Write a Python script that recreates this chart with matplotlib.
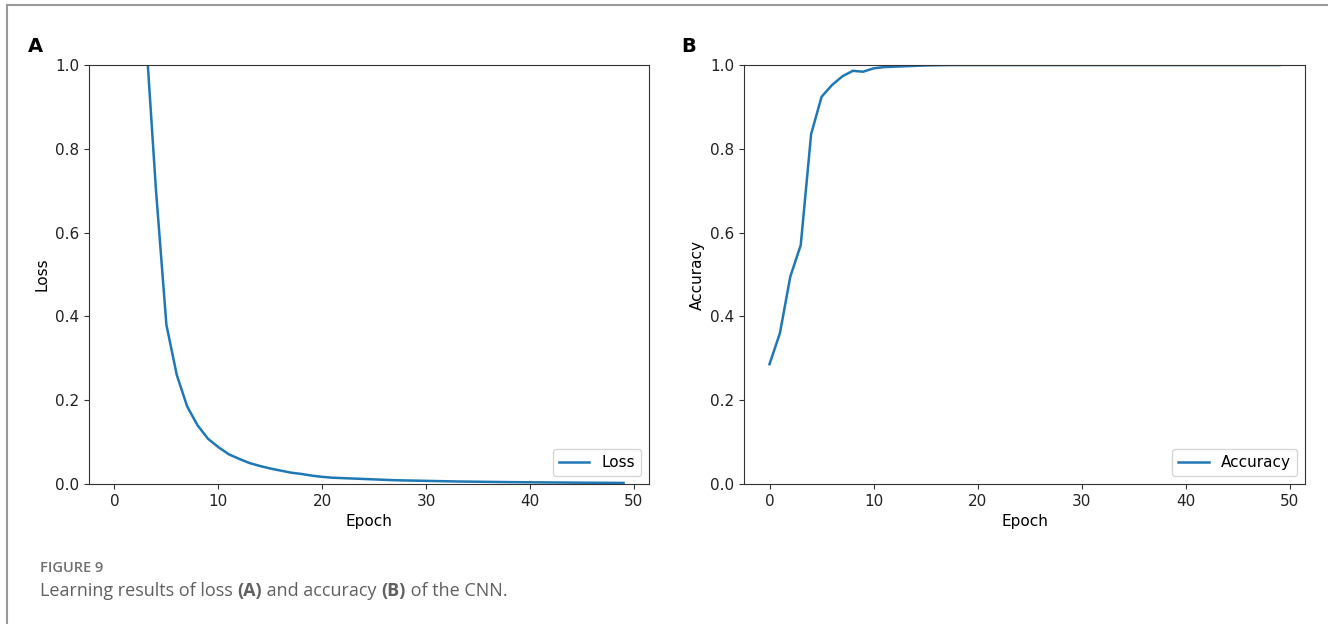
import numpy as np
import matplotlib
matplotlib.use('Agg')
import matplotlib.pyplot as plt
from matplotlib.lines import Line2D

epochs = list(range(50))

loss = [2.6, 1.9, 1.45, 1.08, 0.70, 0.38, 0.26, 0.185, 0.14, 0.108,
        0.088, 0.071, 0.060, 0.050, 0.043, 0.037, 0.032, 0.027, 0.024, 0.020,
        0.017, 0.015, 0.014, 0.013, 0.012, 0.011, 0.010, 0.009, 0.0085, 0.008,
        0.0075, 0.007, 0.0065, 0.006, 0.0057, 0.0054, 0.0051, 0.0048, 0.0045, 0.0043,
        0.0041, 0.0039, 0.0037, 0.0035, 0.0033, 0.0031, 0.0030, 0.0028, 0.0027, 0.0026]

accuracy = [0.286, 0.36, 0.495, 0.570, 0.835, 0.924, 0.952, 0.973, 0.986, 0.984,
            0.992, 0.995, 0.996, 0.997, 0.998, 0.999, 0.9995, 0.9998, 1.0, 1.0,
            1.0, 1.0, 1.0, 1.0, 1.0, 1.0, 1.0, 1.0, 1.0, 1.0,
            1.0, 1.0, 1.0, 1.0, 1.0, 1.0, 1.0, 1.0, 1.0, 1.0,
            1.0, 1.0, 1.0, 1.0, 1.0, 1.0, 1.0, 1.0, 1.0, 1.0]

caption_title = 'FIGURE 9'
caption_parts = [('Learning results of loss ', 'normal'), ('(A)', 'bold'),
                 (' and accuracy ', 'normal'), ('(B)', 'bold'), (' of the CNN.', 'normal')]

W, H = 1328, 624
plt.rcParams['font.family'] = ['DejaVu Sans']
plt.rcParams['font.size'] = 11

fig = plt.figure(figsize=(W / 100, H / 100), dpi=100)

ax1 = fig.add_axes([89 / W, 1 - 484 / H, 560 / W, 419 / H])
ax2 = fig.add_axes([744 / W, 1 - 484 / H, 561 / W, 419 / H])

ax1.plot(epochs, loss, color='#1f77b4', lw=1.8, label='Loss')
ax1.set_ylim(0, 1.0)
ax1.set_ylabel('Loss', fontsize=11)
ax1.set_xlabel('Epoch', fontsize=11)
ax1.legend(loc='lower right', fontsize=11)

ax2.plot(epochs, accuracy, color='#1f77b4', lw=1.8, label='Accuracy')
ax2.set_ylim(0, 1.0)
ax2.set_xlim(ax1.get_xlim())
ax2.set_ylabel('Accuracy', fontsize=11)
ax2.set_xlabel('Epoch', fontsize=11)
ax2.legend(loc='lower right', fontsize=11)

for ax in (ax1, ax2):
    ax.tick_params(labelsize=11, color='#333333', labelcolor='#222222')
    ax.set_yticks([0.0, 0.2, 0.4, 0.6, 0.8, 1.0])
    ax.set_xticks([0, 10, 20, 30, 40, 50])
    for s in ax.spines.values():
        s.set_color('#333333')

fig.text(28 / W, 1 - 46 / H, 'A', fontsize=14, fontweight='bold', va='center')
fig.text(681 / W, 1 - 46 / H, 'B', fontsize=14, fontweight='bold', va='center')

# outer frame (top and left only)
fig.add_artist(Line2D([7 / W, 1], [1 - 5 / H, 1 - 5 / H], color='#999999', lw=1.5))
fig.add_artist(Line2D([7 / W, 7 / W], [0, 1 - 5 / H], color='#999999', lw=1.5))

fig.text(40 / W, 1 - 568 / H, caption_title, fontsize=10.5, fontweight='semibold',
         color='#707070', family='Open Sans', va='center')

fig.canvas.draw()
renderer = fig.canvas.get_renderer()
x = 40
for txt, wt in caption_parts:
    t = fig.text(x / W, 1 - 591 / H, txt, fontsize=13, fontweight=wt,
                 color='#606060', family='Open Sans', va='center')
    bb = t.get_window_extent(renderer)
    x += bb.width

fig.savefig('out.png', dpi=100)
